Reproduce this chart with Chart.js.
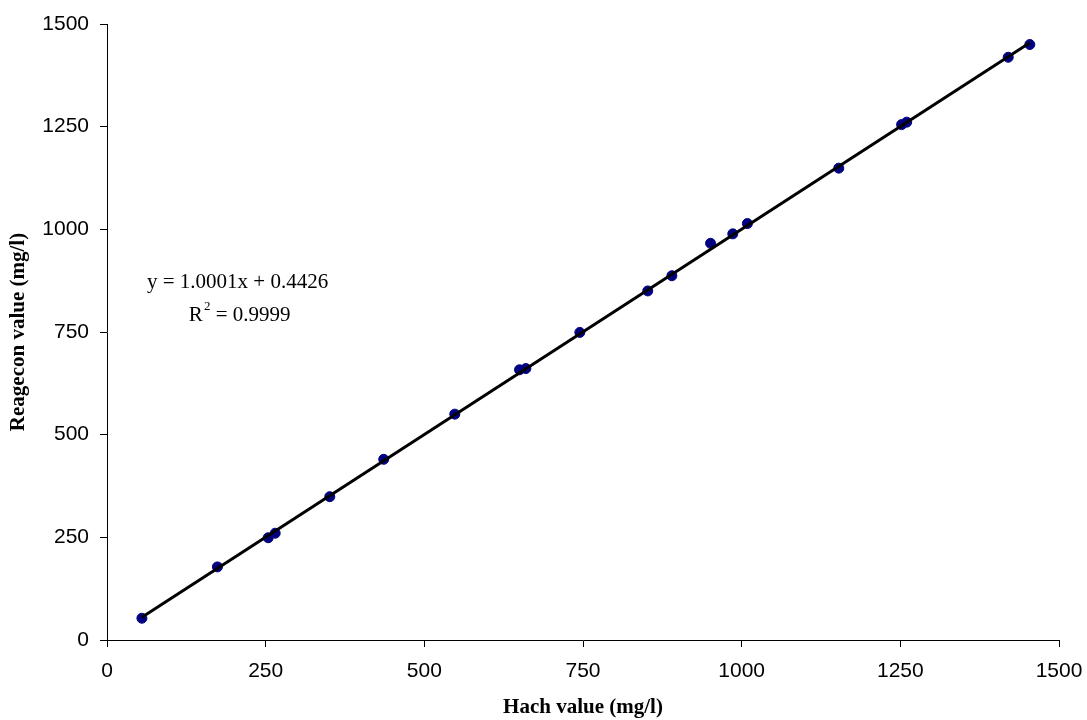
<!DOCTYPE html>
<html><head><meta charset="utf-8">
<script src="https://cdn.jsdelivr.net/npm/chart.js@4/dist/chart.umd.min.js"></script>
<style>html,body{margin:0;padding:0;background:#fff}#wrap{width:1087px;height:720px}</style>
</head><body><div id="wrap"><canvas id="c" width="1087" height="720"></canvas></div>
<script>
const hachValues = [55, 174, 254, 265, 351, 436, 548, 650, 660, 745, 852, 890, 951, 986, 1009, 1153, 1252, 1260, 1420, 1454];
const reageconValues = [53, 178, 249, 260, 349, 440, 550, 658, 661, 749, 850, 887, 966, 989, 1014, 1149, 1255, 1261, 1419, 1450];
const trendSlope = [1.0001];
const trendIntercept = [0.4426];
const axisTicks = [0, 250, 500, 750, 1000, 1250, 1500];
const equationLines = ["y = 1.0001x + 0.4426", "R", "2", " = 0.9999"];

const pts = hachValues.map((x, i) => ({x: x, y: reageconValues[i]}));
const xmin = Math.min(...hachValues), xmax = Math.max(...hachValues);
const trend = [xmin, xmax].map(x => ({x: x, y: trendSlope[0] * x + trendIntercept[0]}));

const serif = '"Liberation Serif", "Times New Roman", serif';
const eqPlugin = {
  id: 'eq',
  afterDatasetsDraw(chart) {
    const ctx = chart.ctx;
    const xs = chart.scales.x, ys = chart.scales.y;
    ctx.save();
    ctx.fillStyle = '#000';
    ctx.textBaseline = 'alphabetic';
    ctx.textAlign = 'left';
    ctx.font = '21px ' + serif;
    ctx.fillText(equationLines[0], xs.getPixelForValue(63), ys.getPixelForValue(856));
    let sx = xs.getPixelForValue(129);
    const y2 = ys.getPixelForValue(778);
    ctx.fillText(equationLines[1], sx, y2);
    sx += ctx.measureText(equationLines[1]).width + 1;
    ctx.font = '13px ' + serif;
    ctx.fillText(equationLines[2], sx, y2 - 10.5);
    sx += ctx.measureText(equationLines[2]).width;
    ctx.font = '21px ' + serif;
    ctx.fillText(equationLines[3], sx, y2);
    ctx.restore();
  }
};

new Chart(document.getElementById('c'), {
  type: 'scatter',
  data: {
    datasets: [
      {label: 'Data', data: pts, backgroundColor: '#000080', borderColor: '#000080', pointRadius: 5, pointHoverRadius: 5, order: 2},
      {label: 'Trend', type: 'line', data: trend, borderColor: '#000', borderWidth: 3, pointRadius: 0, fill: false, order: 1}
    ]
  },
  options: {
    responsive: false,
    animation: false,
    events: [],
    layout: {padding: {top: 24, right: 28, left: 0, bottom: 0}},
    plugins: {legend: {display: false}, tooltip: {enabled: false}},
    scales: {
      x: {
        type: 'linear', min: 0, max: 1500,
        afterBuildTicks(s) { s.ticks = axisTicks.map(v => ({value: v})); },
        afterFit(s) { s.height = 80; s.paddingLeft = 0; s.paddingRight = 0; },
        border: {color: '#000', width: 1},
        grid: {drawOnChartArea: false, color: '#000', tickLength: 7},
        ticks: {color: '#000', font: {family: '"Liberation Sans", Arial, sans-serif', size: 21}, padding: 12, maxRotation: 0,
                callback: v => String(v)},
        title: {display: true, text: 'Hach value (mg/l)', color: '#000', font: {family: serif, size: 21, weight: 'bold'}, padding: {top: 0, bottom: 0}}
      },
      y: {
        type: 'linear', min: 0, max: 1500,
        afterBuildTicks(s) { s.ticks = axisTicks.map(v => ({value: v})); },
        afterFit(s) { s.width = 107; s.paddingTop = 0; s.paddingBottom = 0; },
        border: {color: '#000', width: 1},
        grid: {drawOnChartArea: false, color: '#000', tickLength: 7},
        ticks: {color: '#000', font: {family: '"Liberation Sans", Arial, sans-serif', size: 21}, padding: 11,
                callback: v => String(v)},
        title: {display: true, text: 'Reagecon value (mg/l)', color: '#000', font: {family: serif, size: 21, weight: 'bold'}, padding: {top: 6, bottom: 0}}
      }
    }
  },
  plugins: [eqPlugin]
});
</script>
</body></html>
